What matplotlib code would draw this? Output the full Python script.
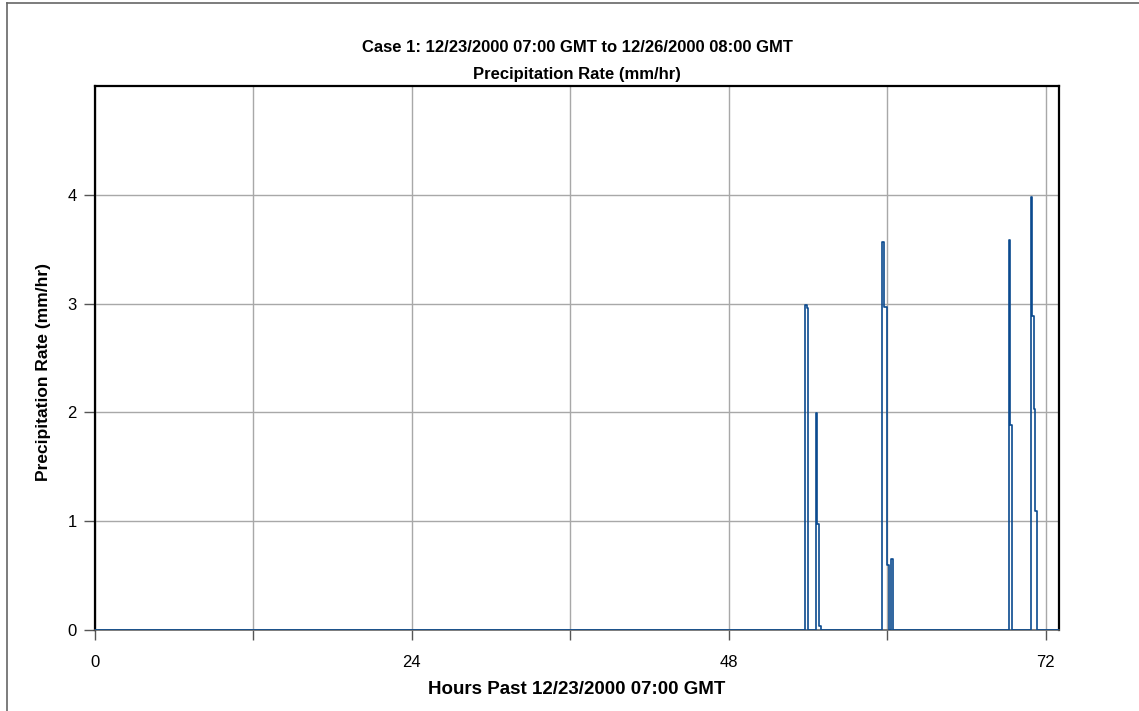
import matplotlib.pyplot as plt
from matplotlib.lines import Line2D

# precipitation rate, step changes (hours past start, mm/hr)
hours = [0, 53.78, 53.88, 53.96, 54.59, 54.66, 54.79, 54.99,
         59.63, 59.78, 59.96, 60.14, 60.26, 60.44,
         69.21, 69.29, 69.42, 70.85, 70.97, 71.10, 71.18, 71.31, 73]
rate = [0, 2.99, 2.96, 0, 1.99, 0.97, 0.04, 0,
        3.57, 2.97, 0.60, 0, 0.65, 0,
        3.58, 1.88, 0, 3.98, 2.89, 2.03, 1.09, 0, 0]

xticks = [0, 12, 24, 36, 48, 60, 72]
xticklabels = ['0', '', '24', '', '48', '', '72']
yticks = [0, 1, 2, 3, 4]

plt.rcParams['font.family'] = ['Liberation Sans', 'DejaVu Sans']

fig = plt.figure(figsize=(11.39, 7.11), dpi=100)
ax = fig.add_axes([95/1139, 81/711, 964/1139, 544/711])

ax.plot(hours, rate, drawstyle='steps-post', color='#0b4a8f', lw=1.2, zorder=3)

ax.set_xlim(0, 73)
ax.set_ylim(0, 5)
ax.set_xticks(xticks)
ax.set_xticklabels(xticklabels, fontsize=12)
ax.set_yticks(yticks)
ax.tick_params(axis='y', length=8, width=1, color='#555555', labelsize=12, pad=5)
ax.tick_params(axis='x', length=7, width=1, color='#555555', pad=11)
ax.grid(True, color='#a8a8a8', lw=1)
ax.set_axisbelow(True)

for s in ['left', 'top', 'right']:
    ax.spines[s].set_linewidth(1.6)
    ax.spines[s].set_color('black')
ax.spines['bottom'].set_color('#666666')
ax.spines['bottom'].set_linewidth(1.2)

ax.set_xlabel('Hours Past 12/23/2000 07:00 GMT', fontsize=13.5,
              fontweight='bold', labelpad=8)
ax.set_ylabel('Precipitation Rate (mm/hr)', fontsize=12.5, fontweight='bold')
ax.yaxis.set_label_coords(-44/964, 0.474)

fig.text(577/1139, 1 - 48/711, 'Case 1: 12/23/2000 07:00 GMT to 12/26/2000 08:00 GMT',
         ha='center', va='center', fontsize=12, fontweight='bold')
fig.text(577/1139, 1 - 75/711, 'Precipitation Rate (mm/hr)',
         ha='center', va='center', fontsize=12, fontweight='bold')

# outer frame
fig.add_artist(Line2D([7/1139, 1], [1 - 3/711, 1 - 3/711], color='#666666', lw=1.2))
fig.add_artist(Line2D([7/1139, 7/1139], [0, 1 - 3/711], color='#666666', lw=1.2))

fig.savefig('out.png', dpi=100)
